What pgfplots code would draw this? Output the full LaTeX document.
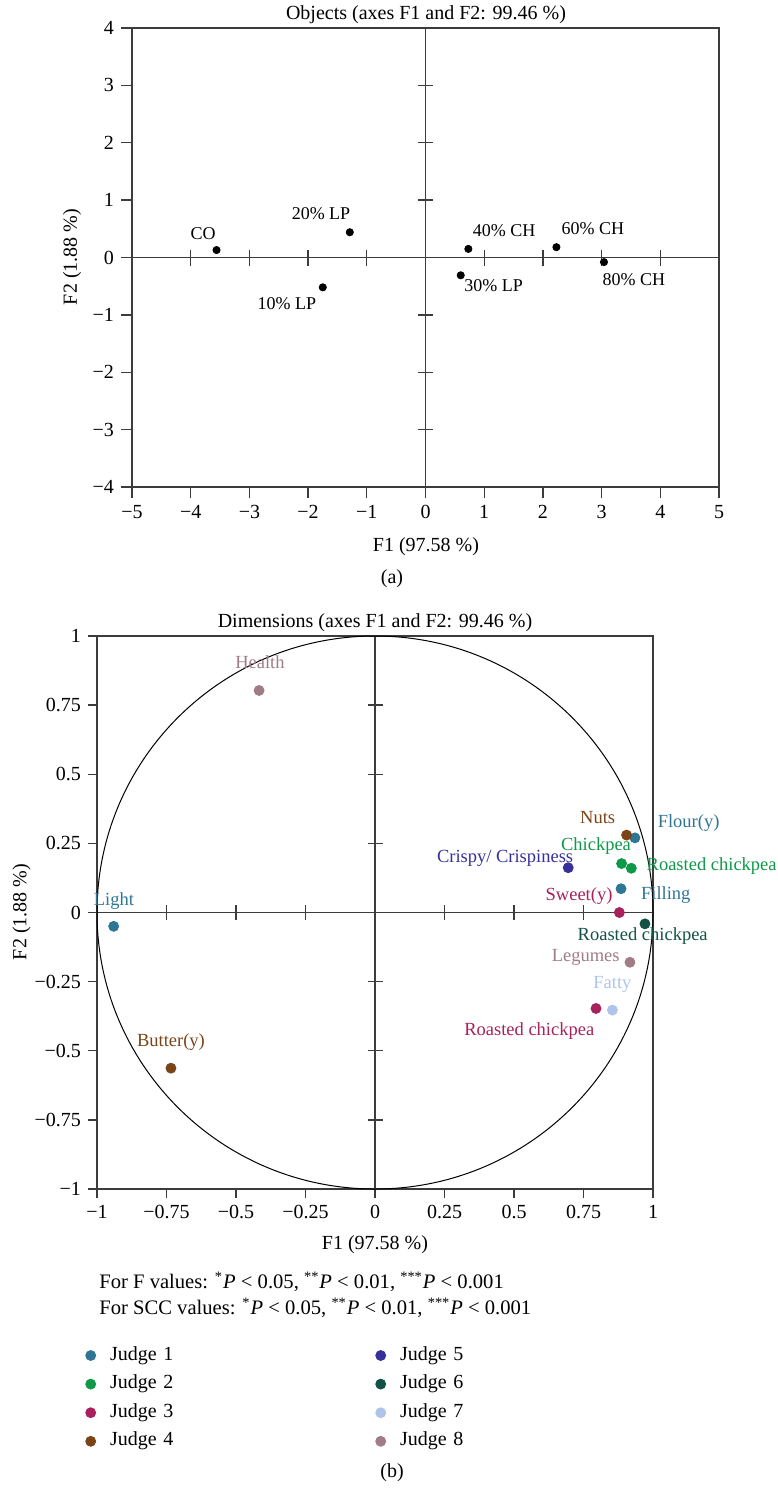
\documentclass[border=0pt]{standalone}
\usepackage{fontspec}
\setmainfont{Liberation Serif}
\usepackage{pgfplots}
\pgfplotsset{compat=1.18}
\definecolor{jA}{RGB}{46,118,148}
\definecolor{jB}{RGB}{14,152,72}
\definecolor{jC}{RGB}{168,33,92}
\definecolor{jD}{RGB}{123,68,22}
\definecolor{jE}{RGB}{53,48,154}
\definecolor{jF}{RGB}{18,82,70}
\definecolor{jG}{RGB}{174,196,234}
\definecolor{jH}{RGB}{160,124,134}
\definecolor{axgray}{RGB}{60,60,60}
\newcommand{\ften}{\fontsize{10}{12}\selectfont}
\newcommand{\fnine}{\fontsize{9}{11}\selectfont}
\newcommand{\flab}{\fontsize{9.25}{11}\selectfont}
\newcommand{\fnote}{\fontsize{10.3}{12}\selectfont}
\pgfplotsset{
  mybase/.style={
    scale only axis, clip=false,
    axis line style={axgray, line width=0.65pt},
    tick style={axgray, line width=0.65pt},
    tick align=outside, tick pos=left,
    ticklabel style={font=\ften},
    /pgf/number format/assume math mode=true,
  }
}
\begin{document}
\begin{tikzpicture}
\useasboundingbox (0,0) rectangle (388.5pt,-745.5pt);
% ---------------- panel (a)
\begin{axis}[mybase,
  at={(66pt,-243.5pt)}, anchor=south west,
  width=293.5pt, height=229.5pt,
  xmin=-5, xmax=5, ymin=-4, ymax=4,
  major tick length=5.5pt,
  xtick={-5,-4,-3,-2,-1,0,1,2,3,4,5},
  xticklabels={−5,−4,−3,−2,−1,0,1,2,3,4,5},
  ytick={-4,-3,-2,-1,0,1,2,3,4},
  yticklabels={−4,−3,−2,−1,0,1,2,3,4},
]
\draw[axgray, line width=0.65pt] (axis cs:0,-4) -- (axis cs:0,4);
\draw[axgray, line width=0.65pt] (axis cs:-5,0) -- (axis cs:5,0);
\pgfplotsinvokeforeach{-4,-3,-2,-1,1,2,3,4}{
  \draw[axgray, line width=0.65pt] ([yshift=-4pt]axis cs:#1,0) -- ([yshift=4pt]axis cs:#1,0);
}
\pgfplotsinvokeforeach{-3,-2,-1,1,2,3}{
  \draw[axgray, line width=0.65pt] ([xshift=-3.75pt]axis cs:0,#1) -- ([xshift=3.75pt]axis cs:0,#1);
}
\addplot[only marks, mark=*, mark size=1.8pt, black] coordinates {
  (-3.56,0.13) (-1.29,0.44) (-1.75,-0.52) (0.73,0.15) (0.60,-0.31) (2.23,0.18) (3.04,-0.08)
};
\node[font=\fnine] at (axis cs:-3.79,0.41) {CO};
\node[font=\fnine] at (axis cs:-1.78,0.76) {20\% LP};
\node[font=\fnine] at (axis cs:-2.36,-0.80) {10\% LP};
\node[font=\fnine] at (axis cs:1.34,0.47) {40\% CH};
\node[font=\fnine] at (axis cs:1.16,-0.49) {30\% LP};
\node[font=\fnine] at (axis cs:2.85,0.51) {60\% CH};
\node[font=\fnine] at (axis cs:3.55,-0.39) {80\% CH};
\end{axis}
\node[font=\ften] at (213pt,-7.5pt) {Objects (axes F1 and F2: 99.46 \%)};
\node[font=\ften, rotate=90] at (36pt,-128.5pt) {F2 (1.88 \%)};
\node[font=\ften] at (213pt,-273.5pt) {F1 (97.58 \%)};
\node[font=\ften] at (196pt,-289.5pt) {(a)};
% ---------------- panel (b)
\begin{axis}[mybase,
  at={(48.5pt,-594.5pt)}, anchor=south west,
  width=278pt, height=276.5pt,
  xmin=-1, xmax=1, ymin=-1, ymax=1,
  major tick length=4.5pt,
  xtick={-1,-0.75,-0.5,-0.25,0,0.25,0.5,0.75,1},
  xticklabels={−1,−0.75,−0.5,−0.25,0,0.25,0.5,0.75,1},
  ytick={-1,-0.75,-0.5,-0.25,0,0.25,0.5,0.75,1},
  yticklabels={−1,−0.75,−0.5,−0.25,0,0.25,0.5,0.75,1},
  legend columns=2,
  legend cell align=left,
  legend image code/.code={
    \path[draw=none, fill=none] (0pt,-2.5pt) rectangle (13.65pt,2.5pt);
    \draw[mark repeat=2,mark phase=2,#1] plot coordinates {(0pt,0pt) (4pt,0pt) (8pt,0pt)};
  },
  legend style={
    at={(axis description cs:-0.0257,-0.2857)}, anchor=north west,
    draw=none, fill=none, inner sep=0pt, outer sep=0pt,
    font=\ften, row sep=5.8pt,
    nodes={inner sep=0pt, text width=40pt, text height=6.5pt, text depth=2pt},
    /tikz/every even column/.append style={column sep=91.35pt},
  },
]
\draw[axgray, line width=0.65pt] (axis cs:0,-1) -- (axis cs:0,1);
\draw[axgray, line width=0.65pt] (axis cs:-1,0) -- (axis cs:1,0);
\pgfplotsinvokeforeach{-0.75,-0.5,-0.25,0.25,0.5,0.75}{
  \draw[axgray, line width=0.65pt] ([yshift=-3.75pt]axis cs:#1,0) -- ([yshift=3.75pt]axis cs:#1,0);
  \draw[axgray, line width=0.65pt] ([xshift=-3.75pt]axis cs:0,#1) -- ([xshift=3.75pt]axis cs:0,#1);
}
\draw[black, line width=0.5pt] (axis cs:0,0) ellipse [x radius=1, y radius=1];
% Judge 1
\addplot[only marks, mark=*, mark size=2.5pt, color=jA] coordinates {(-0.94,-0.05) (0.935,0.27) (0.885,0.086)};
\addlegendentry{Judge 1}
% Judge 5
\addplot[only marks, mark=*, mark size=2.5pt, color=jE] coordinates {(0.695,0.162)};
\addlegendentry{Judge 5}
% Judge 2
\addplot[only marks, mark=*, mark size=2.5pt, color=jB] coordinates {(0.887,0.177) (0.922,0.16)};
\addlegendentry{Judge 2}
% Judge 6
\addplot[only marks, mark=*, mark size=2.5pt, color=jF] coordinates {(0.971,-0.041)};
\addlegendentry{Judge 6}
% Judge 3
\addplot[only marks, mark=*, mark size=2.5pt, color=jC] coordinates {(0.879,0.0) (0.795,-0.347)};
\addlegendentry{Judge 3}
% Judge 7
\addplot[only marks, mark=*, mark size=2.5pt, color=jG] coordinates {(0.854,-0.353)};
\addlegendentry{Judge 7}
% Judge 4
\addplot[only marks, mark=*, mark size=2.5pt, color=jD] coordinates {(-0.734,-0.563) (0.905,0.28)};
\addlegendentry{Judge 4}
% Judge 8
\addplot[only marks, mark=*, mark size=2.5pt, color=jH] coordinates {(-0.417,0.803) (0.917,-0.18)};
\addlegendentry{Judge 8}
\node[font=\flab, text=jH] at (axis cs:-0.414,0.904) {Health};
\node[font=\flab, text=jA] at (axis cs:-0.939,0.043) {Light};
\node[font=\flab, text=jD] at (axis cs:-0.734,-0.467) {Butter(y)};
\node[font=\flab, text=jE] at (axis cs:0.468,0.195) {Crispy/ Crispiness};
\node[font=\flab, text=jD] at (axis cs:0.801,0.342) {Nuts};
\node[font=\flab, text=jA] at (axis cs:1.128,0.324) {Flour(y)};
\node[font=\flab, text=jB] at (axis cs:0.795,0.242) {Chickpea};
\node[font=\flab, text=jB] at (axis cs:1.211,0.167) {Roasted chickpea};
\node[font=\flab, text=jA] at (axis cs:1.046,0.064) {Filling};
\node[font=\flab, text=jC] at (axis cs:0.734,0.059) {Sweet(y)};
\node[font=\flab, text=jF] at (axis cs:0.963,-0.086) {Roasted chickpea};
\node[font=\flab, text=jH] at (axis cs:0.758,-0.164) {Legumes};
\node[font=\flab, text=jG] at (axis cs:0.854,-0.260) {Fatty};
\node[font=\flab, text=jC] at (axis cs:0.555,-0.427) {Roasted chickpea};
\end{axis}
\node[font=\ften] at (187.5pt,-311.5pt) {Dimensions (axes F1 and F2: 99.46 \%)};
\node[font=\ften, rotate=90] at (10.8pt,-456pt) {F2 (1.88 \%)};
\node[font=\ften] at (187.5pt,-622.5pt) {F1 (97.58 \%)};
\node[font=\fnote, anchor=west, inner sep=0pt] at (49.5pt,-641pt) {For F values: \textsuperscript{*}\textit{P} < 0.05, \textsuperscript{**}\textit{P} < 0.01, \textsuperscript{***}\textit{P} < 0.001};
\node[font=\fnote, anchor=west, inner sep=0pt] at (49.5pt,-654pt) {For SCC values: \textsuperscript{*}\textit{P} < 0.05, \textsuperscript{**}\textit{P} < 0.01, \textsuperscript{***}\textit{P} < 0.001};
\node[font=\ften] at (196pt,-736.5pt) {(b)};
\end{tikzpicture}
\end{document}
